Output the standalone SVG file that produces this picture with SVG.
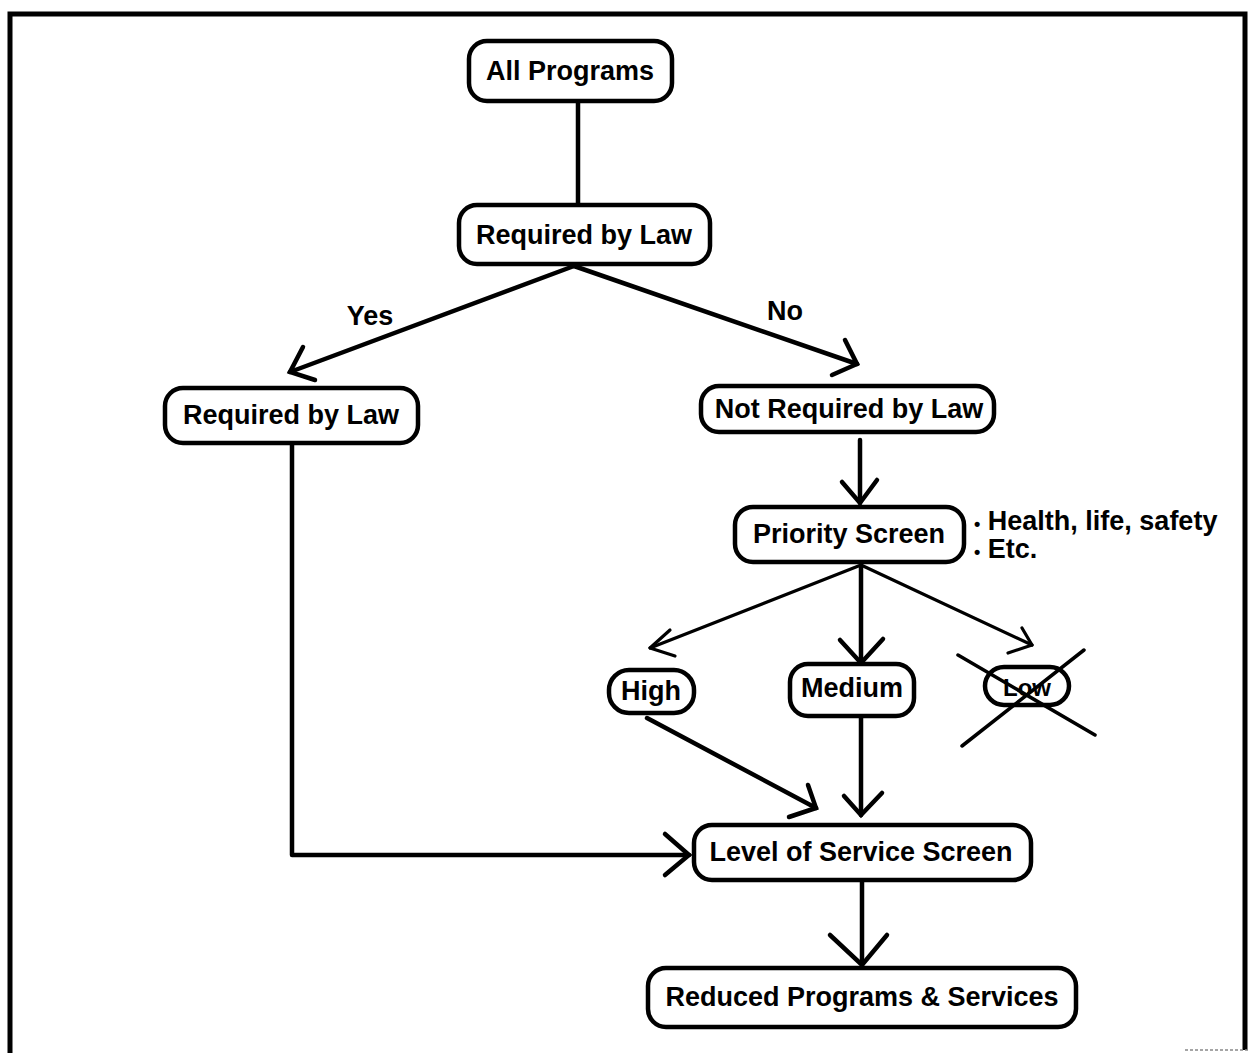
<svg xmlns="http://www.w3.org/2000/svg" width="1249" height="1053" viewBox="0 0 1249 1053">
<style>
  .box { fill: #fff; stroke: #000; stroke-width: 4.5; }
  .lbl { font-family: "Liberation Sans", Arial, Helvetica, sans-serif; font-weight: bold; font-size: 27px; fill: #000; text-anchor: middle; }
  .note { font-family: "Liberation Sans", Arial, Helvetica, sans-serif; font-weight: bold; font-size: 27px; fill: #000; }
  .dot { font-size: 18px; }
  .ln { fill: none; stroke: #000; stroke-width: 4.5; stroke-linecap: round; stroke-linejoin: round; }
  .thin { fill: none; stroke: #000; stroke-width: 3.2; stroke-linecap: round; stroke-linejoin: round; }
  .head { fill: none; stroke: #000; stroke-width: 4.5; stroke-linecap: round; stroke-linejoin: miter; }
  .cross { fill: none; stroke: #000; stroke-width: 3.5; stroke-linecap: round; }
</style>
<rect x="0" y="0" width="1249" height="1053" fill="#fff"/>
<path d="M10,1053 V14 H1245 V1050" fill="none" stroke="#000" stroke-width="5"/>
<line x1="1185" y1="1050" x2="1249" y2="1050" stroke="#888" stroke-width="1.5" stroke-dasharray="3,2"/>

<g id="connectors">
  <line class="ln" x1="578" y1="102" x2="578" y2="205"/>
  <line class="ln" x1="574" y1="266" x2="290" y2="372"/>
  <polyline class="head" points="303,347 290,372 315,380"/>
  <line class="ln" x1="574" y1="266" x2="857" y2="364"/>
  <polyline class="head" points="845,340 857,364 832,375"/>
  <line class="ln" x1="860" y1="440" x2="860" y2="503"/>
  <polyline class="head" points="842,482 860,503 877,480"/>
  <line class="thin" x1="861" y1="565" x2="650" y2="648"/>
  <polyline class="thin" points="670,630 650,648 675,656"/>
  <line class="ln" x1="861" y1="565" x2="861" y2="663"/>
  <polyline class="head" points="840,640 861,663 883,639"/>
  <line class="thin" x1="861" y1="565" x2="1032" y2="645"/>
  <polyline class="thin" points="1022,628 1032,645 1008,653"/>
  <line class="ln" x1="647" y1="718" x2="816" y2="808"/>
  <polyline class="head" points="808,785 816,808 789,817"/>
  <line class="ln" x1="861" y1="716" x2="861" y2="815"/>
  <polyline class="head" points="844,796 861,815 882,793"/>
  <polyline class="ln" points="292,443 292,855 689,855"/>
  <polyline class="head" points="665,834 689,855 665,875"/>
  <line class="ln" x1="862" y1="880" x2="862" y2="965"/>
  <polyline class="head" points="830,935 862,965 887,935"/>
  <text class="lbl" x="370" y="325">Yes</text>
  <text class="lbl" x="785" y="320">No</text>
</g>

<g id="all-programs">
  <rect class="box" x="469" y="41" width="203" height="60" rx="18"/>
  <text class="lbl" x="570" y="80">All Programs</text>
</g>
<g id="required-by-law-top">
  <rect class="box" x="459" y="205" width="251" height="59" rx="18"/>
  <text class="lbl" x="584" y="244">Required by Law</text>
</g>
<g id="required-by-law-left">
  <rect class="box" x="165" y="388" width="253" height="55" rx="18"/>
  <text class="lbl" x="291" y="424">Required by Law</text>
</g>
<g id="not-required-by-law">
  <rect class="box" x="701" y="386" width="293" height="46" rx="18"/>
  <text class="lbl" x="849" y="418">Not Required by Law</text>
</g>
<g id="priority-screen">
  <rect class="box" x="735" y="507" width="229" height="55" rx="18"/>
  <text class="lbl" x="849" y="543">Priority Screen</text>
</g>
<g id="priority-notes">
  <text class="note" x="974" y="530"><tspan class="dot">•</tspan> Health, life, safety</text>
  <text class="note" x="974" y="558"><tspan class="dot">•</tspan> Etc.</text>
</g>
<g id="high">
  <rect class="box" x="609" y="670" width="85" height="43" rx="20"/>
  <text class="lbl" x="651" y="700">High</text>
</g>
<g id="medium">
  <rect class="box" x="790" y="664" width="124" height="52" rx="18"/>
  <text class="lbl" x="852" y="697">Medium</text>
</g>
<g id="low">
  <rect class="box" x="985" y="667" width="84" height="38" rx="19"/>
  <text class="lbl" x="1027" y="696" style="font-size:24px">Low</text>
  <line class="cross" x1="958" y1="655" x2="1095" y2="735"/>
  <line class="cross" x1="1084" y1="650" x2="962" y2="746"/>
</g>
<g id="level-of-service-screen">
  <rect class="box" x="694" y="825" width="337" height="55" rx="18"/>
  <text class="lbl" x="861" y="861">Level of Service Screen</text>
</g>
<g id="reduced-programs-services">
  <rect class="box" x="648" y="968" width="428" height="59" rx="18"/>
  <text class="lbl" x="862" y="1006">Reduced Programs &amp; Services</text>
</g>
</svg>
